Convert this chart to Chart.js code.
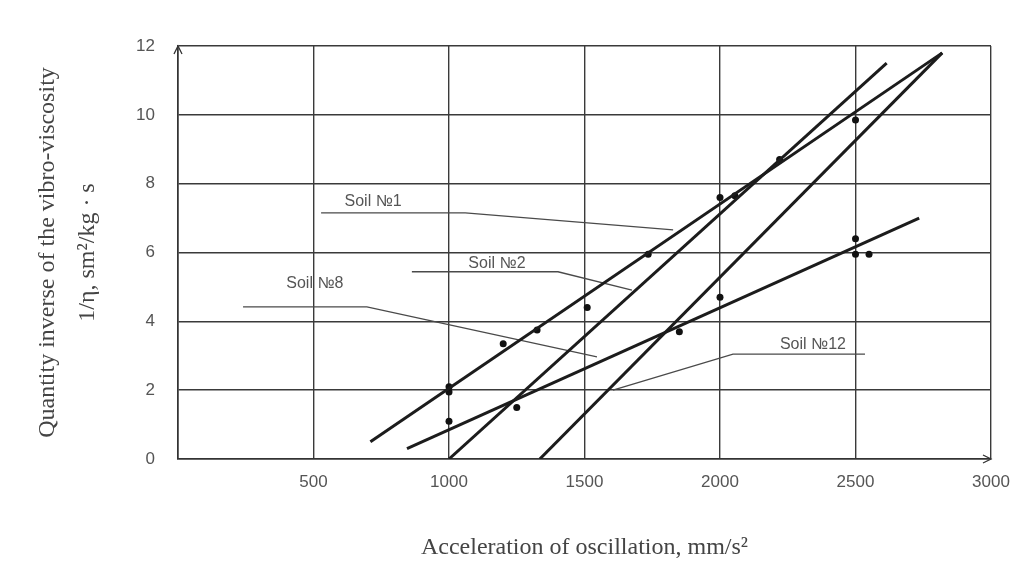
<!DOCTYPE html>
<html lang="en">
<head>
<meta charset="UTF-8">
<title>Vibro-viscosity vs acceleration</title>
<script src="https://cdn.jsdelivr.net/npm/chart.js"></script>
<style>
  html, body { margin: 0; padding: 0; background: #fff; }
</style>
</head>
<body>
<canvas id="vibro" width="1018" height="586"></canvas>

<script>
// fitted lines, two end points each
const soil1X = [710, 2820];
const soil1Y = [0.5, 11.8];
const soil2X = [1000, 2615];
const soil2Y = [0, 11.5];
const soil8X = [845, 2735];
const soil8Y = [0.3, 7.0];
const soil12X = [1335, 2820];
const soil12Y = [0, 11.8];

// measured points
const pointX = [1000, 1000, 1000, 1200, 1250, 1325, 1510, 1735, 1850, 2000, 2000, 2055, 2220, 2500, 2500, 2500, 2550];
const pointY = [2.1, 1.95, 1.1, 3.35, 1.5, 3.75, 4.4, 5.95, 3.7, 4.7, 7.6, 7.65, 8.7, 9.85, 6.4, 5.95, 5.95];

// curve labels and their leader lines
const labelNames = ['Soil №1', 'Soil №2', 'Soil №8', 'Soil №12'];
const labelX = [720, 1177, 505, 2343];
const labelY = [7.47, 5.67, 5.09, 3.31];
const leader1X = [528, 1060, 1827];
const leader1Y = [7.15, 7.15, 6.66];
const leader2X = [863, 1402, 1675];
const leader2Y = [5.44, 5.44, 4.91];
const leader8X = [240, 697, 1546];
const leader8Y = [4.42, 4.42, 2.97];
const leader12X = [2535, 2048, 1605];
const leader12Y = [3.05, 3.05, 2.0];

const toXY = (xs, ys) => xs.map((v, i) => ({ x: v, y: ys[i] }));

const fitLine = (xs, ys) => ({
  data: toXY(xs, ys),
  showLine: true,
  borderColor: '#1c1c1c',
  borderWidth: 3,
  pointRadius: 0
});
const leader = (xs, ys) => ({
  data: toXY(xs, ys),
  showLine: true,
  borderColor: '#4a4a4a',
  borderWidth: 1.3,
  pointRadius: 0
});

// texts on the plot + small arrow heads on the axes
const soilLabels = {
  id: 'soilLabels',
  afterDraw(chart) {
    const { ctx, scales: { x, y }, chartArea: a } = chart;
    ctx.save();
    ctx.font = '16px "Liberation Sans", Arial, sans-serif';
    ctx.fillStyle = '#555';
    ctx.textAlign = 'center';
    ctx.textBaseline = 'middle';
    labelNames.forEach((t, i) => {
      ctx.fillText(t, x.getPixelForValue(labelX[i]), y.getPixelForValue(labelY[i]));
    });
    ctx.strokeStyle = '#333';
    ctx.lineWidth = 1.3;
    ctx.beginPath();
    ctx.moveTo(a.left - 4, a.top + 8);
    ctx.lineTo(a.left, a.top);
    ctx.lineTo(a.left + 4, a.top + 8);
    ctx.moveTo(a.right - 8, a.bottom - 4);
    ctx.lineTo(a.right, a.bottom);
    ctx.lineTo(a.right - 8, a.bottom + 4);
    ctx.stroke();
    ctx.restore();
  }
};

new Chart(document.getElementById('vibro'), {
  type: 'scatter',
  data: {
    datasets: [
      fitLine(soil1X, soil1Y),
      fitLine(soil2X, soil2Y),
      fitLine(soil8X, soil8Y),
      fitLine(soil12X, soil12Y),
      leader(leader1X, leader1Y),
      leader(leader2X, leader2Y),
      leader(leader8X, leader8Y),
      leader(leader12X, leader12Y),
      {
        data: toXY(pointX, pointY),
        pointRadius: 3.5,
        pointBackgroundColor: '#111',
        pointBorderWidth: 0
      }
    ]
  },
  options: {
    responsive: false,
    animation: false,
    layout: { padding: { top: 46, right: 27, left: 0, bottom: 0 } },
    plugins: {
      legend: { display: false },
      tooltip: { enabled: false }
    },
    scales: {
      x: {
        type: 'linear',
        min: 0,
        max: 3000,
        afterFit: s => { s.height = 127; s.paddingLeft = 0; s.paddingRight = 0; },
        grid: { color: '#3a3a3a', lineWidth: 1.4, drawTicks: false },
        border: { color: '#333', width: 1.6 },
        ticks: {
          stepSize: 500,
          padding: 13,
          color: '#555',
          font: { family: '"Liberation Sans", Arial, sans-serif', size: 17 },
          callback: v => (v === 0 ? '' : v)
        },
        title: {
          display: true,
          text: 'Acceleration of oscillation, mm/s²',
          color: '#444',
          font: { family: '"Liberation Serif", "Times New Roman", serif', size: 24 },
          padding: { top: 0, bottom: 24 }
        }
      },
      y: {
        min: 0,
        max: 12,
        afterFit: s => { s.width = 178; s.paddingTop = 0; s.paddingBottom = 0; },
        grid: { color: '#3a3a3a', lineWidth: 1.4, drawTicks: false },
        border: { color: '#333', width: 1.6 },
        ticks: {
          stepSize: 2,
          padding: 23,
          color: '#555',
          font: { family: '"Liberation Sans", Arial, sans-serif', size: 17 }
        },
        title: {
          display: true,
          text: ['Quantity inverse of the vibro-viscosity', '1/η, sm²/kg · s'],
          color: '#444',
          font: { family: '"Liberation Serif", "Times New Roman", serif', size: 24, lineHeight: 1.667 },
          padding: { top: 28, bottom: 0 }
        }
      }
    }
  },
  plugins: [soilLabels]
});
</script>
</body>
</html>
